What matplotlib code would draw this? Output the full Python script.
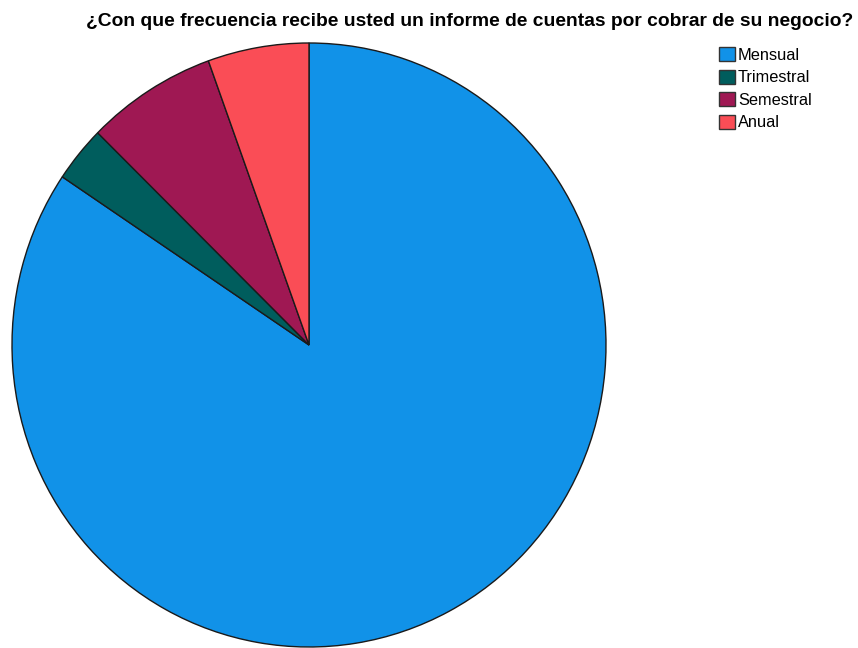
import matplotlib.pyplot as plt
from matplotlib.patches import Patch

# Frequency of accounts-receivable reports (percent of respondents)
categories = ['Mensual', 'Trimestral', 'Semestral', 'Anual']
values = [84.4, 3.0, 7.1, 5.5]
colors = ['#1192e8', '#005d5d', '#9f1853', '#fa4d56']

title = '¿Con que frecuencia recibe usted un informe de cuentas por cobrar de su negocio?'

plt.rcParams['font.family'] = ['Liberation Sans', 'DejaVu Sans']

fig = plt.figure(figsize=(8.58, 6.48), dpi=100)

# pie axes sized so the circle fills the left part of the canvas
ax = fig.add_axes([12 / 858, 1 / 648, 594 / 858, 604 / 648])
ax.pie(values, colors=colors, startangle=90, counterclock=False,
       radius=1.0, wedgeprops=dict(edgecolor='#1a1a1a', linewidth=1.0))
ax.set_xlim(-1.0, 1.0)
ax.set_ylim(-1.0, 1.0)
ax.set_aspect('auto')
ax.axis('off')

fig.text(470 / 858, 1 - 21 / 648, title, ha='center', va='center',
         fontsize=13.9, fontweight='bold')

handles = [Patch(facecolor=c, edgecolor='#333333', linewidth=1.0) for c in colors]
fig.legend(handles, categories, loc='upper left',
           bbox_to_anchor=(719 / 858, 1 - 47 / 648), frameon=False,
           fontsize=11.8, handlelength=0.95, handleheight=0.95,
           handletextpad=0.2, labelspacing=0.42, borderaxespad=0,
           borderpad=0)

fig.savefig('out.png', dpi=100)
